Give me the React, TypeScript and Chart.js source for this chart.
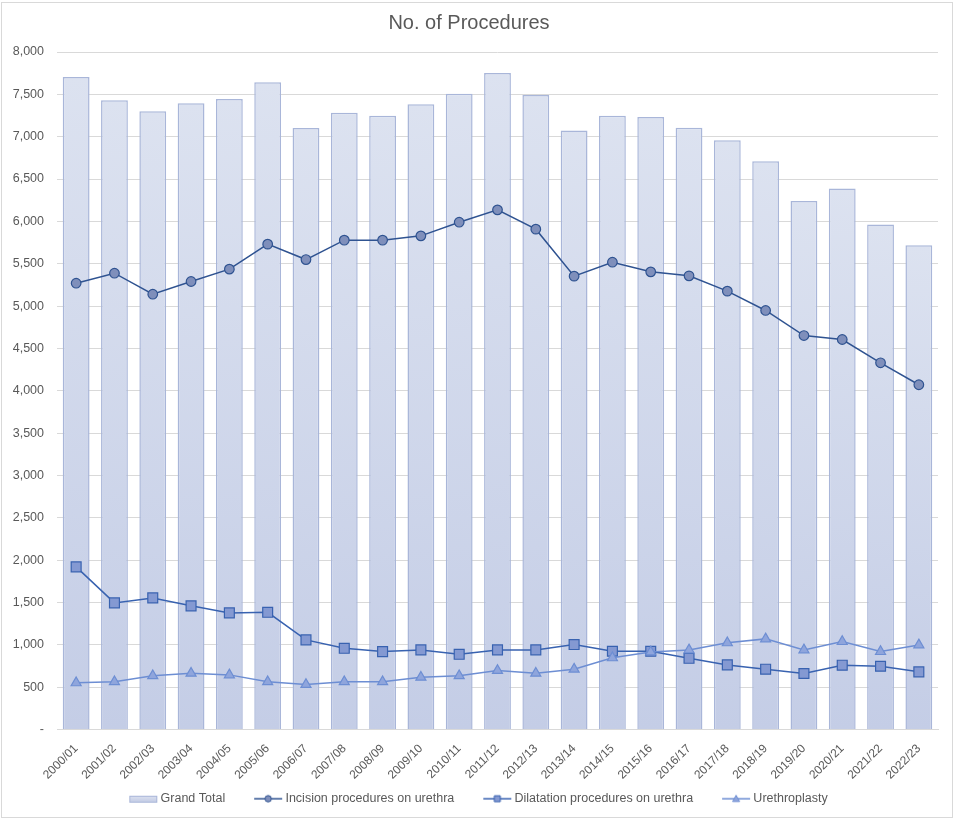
import { useEffect, useRef } from "react";
import { Chart, registerables, type ScriptableContext } from "chart.js";

Chart.register(...registerables);

/* Financial years on the x axis */
const YEARS = [
  "2000/01", "2001/02", "2002/03", "2003/04", "2004/05", "2005/06", "2006/07", "2007/08",
  "2008/09", "2009/10", "2010/11", "2011/12", "2012/13", "2013/14", "2014/15", "2015/16",
  "2016/17", "2017/18", "2018/19", "2019/20", "2020/21", "2021/22", "2022/23",
];

const GRAND_TOTAL = [
  7705, 7430, 7300, 7395, 7446, 7643, 7103, 7283, 7248, 7383, 7508, 7752,
  7493, 7072, 7248, 7233, 7107, 6958, 6710, 6242, 6387, 5962, 5719,
];

const INCISION = [
  5270, 5388, 5140, 5290, 5436, 5731, 5549, 5778, 5778, 5829, 5990, 6136,
  5908, 5353, 5518, 5404, 5357, 5176, 4948, 4652, 4605, 4330, 4071,
];

const DILATATION = [
  1920, 1495, 1554, 1460, 1377, 1384, 1058, 959, 920, 940, 888, 940,
  940, 1003, 924, 924, 841, 763, 712, 661, 759, 747, 681,
];

const URETHROPLASTY = [
  551, 563, 634, 664, 645, 563, 531, 563, 563, 617, 634, 696,
  664, 712, 846, 916, 940, 1023, 1070, 940, 1038, 920, 999,
];

const TEXT = "#595959";
const GRID = "#d9d9d9";
const BAR_TOP = "#dce2f0";
const BAR_BOTTOM = "#c4cde6";
const BAR_BORDER = "#a9b6d9";

/* Legend swatch: a small canvas used as the legend's point style */
function makeSwatch(kind: "bar" | "circle" | "rect" | "triangle", line: string, fill: string) {
  const c = document.createElement("canvas");
  c.width = 52;
  c.height = 12;
  const g = c.getContext("2d")!;
  const x0 = 23, x1 = 51, cy = 6, cx = 37;
  if (kind === "bar") {
    const grad = g.createLinearGradient(0, cy - 3, 0, cy + 3);
    grad.addColorStop(0, BAR_TOP);
    grad.addColorStop(1, BAR_BOTTOM);
    g.fillStyle = grad;
    g.fillRect(x0 + 0.5, cy - 2.5, 27, 6);
    g.strokeStyle = BAR_BORDER;
    g.lineWidth = 1;
    g.strokeRect(x0 + 0.5, cy - 2.5, 27, 6);
    return c;
  }
  g.strokeStyle = line;
  g.lineWidth = 1.5;
  g.beginPath();
  g.moveTo(x0, cy);
  g.lineTo(x1, cy);
  g.stroke();
  g.fillStyle = fill;
  g.lineWidth = 1;
  g.beginPath();
  if (kind === "circle") g.arc(cx, cy, 3.2, 0, Math.PI * 2);
  else if (kind === "rect") g.rect(cx - 3, cy - 3, 6, 6);
  else {
    g.moveTo(cx, cy - 3.5);
    g.lineTo(cx + 3.5, cy + 2.8);
    g.lineTo(cx - 3.5, cy + 2.8);
    g.closePath();
  }
  g.fill();
  g.stroke();
  return c;
}

export default function App() {
  const canvasRef = useRef<HTMLCanvasElement>(null);
  const chartRef = useRef<Chart | null>(null);

  useEffect(() => {
    if (!canvasRef.current) return;
    chartRef.current?.destroy();

    const swatches = [
      makeSwatch("bar", BAR_BORDER, BAR_TOP),
      makeSwatch("circle", "#2f5391", "#7f8fbb"),
      makeSwatch("rect", "#3862b0", "#8499d2"),
      makeSwatch("triangle", "#6d8ed3", "#8fa5dc"),
    ];

    const barFill = (c: ScriptableContext<"bar">) => {
      const chart = c.chart;
      const area = chart.chartArea;
      if (!area || c.dataIndex == null) return BAR_TOP;
      const top = chart.scales.y.getPixelForValue(GRAND_TOTAL[c.dataIndex]);
      const grad = chart.ctx.createLinearGradient(0, top, 0, area.bottom);
      grad.addColorStop(0, BAR_TOP);
      grad.addColorStop(1, BAR_BOTTOM);
      return grad;
    };

    chartRef.current = new Chart(canvasRef.current, {
      type: "bar",
      data: {
        labels: YEARS,
        datasets: [
          {
            type: "bar",
            label: "Grand Total",
            data: GRAND_TOTAL,
            backgroundColor: barFill as never,
            borderColor: BAR_BORDER,
            borderWidth: 1.5,
            categoryPercentage: 1,
            barPercentage: 0.7,
            order: 10,
          },
          {
            type: "line",
            label: "Incision procedures on urethra",
            data: INCISION,
            borderColor: "#2f5391",
            borderWidth: 1.5,
            pointStyle: "circle",
            pointRadius: 4.8,
            pointBackgroundColor: "#7f8fbb",
            pointBorderColor: "#2f5391",
            pointBorderWidth: 1.2,
            tension: 0,
            order: 3,
          } as never,
          {
            type: "line",
            label: "Dilatation procedures on urethra",
            data: DILATATION,
            borderColor: "#3862b0",
            borderWidth: 1.5,
            pointStyle: "rect",
            pointRadius: 7,
            pointBackgroundColor: "#8499d2",
            pointBorderColor: "#3862b0",
            pointBorderWidth: 1.2,
            tension: 0,
            order: 2,
          } as never,
          {
            type: "line",
            label: "Urethroplasty",
            data: URETHROPLASTY,
            borderColor: "#6d8ed3",
            borderWidth: 1.5,
            pointStyle: "triangle",
            pointRadius: 5.8,
            pointBackgroundColor: "#8fa5dc",
            pointBorderColor: "#6d8ed3",
            pointBorderWidth: 1.2,
            tension: 0,
            order: 1,
          } as never,
        ],
      },
      options: {
        responsive: true,
        maintainAspectRatio: false,
        animation: false,
        layout: { padding: { left: 0, right: 16, top: 0, bottom: 5 } },
        plugins: {
          title: {
            display: true,
            text: "No. of Procedures",
            color: TEXT,
            font: { size: 20, weight: "normal" },
            padding: { top: 11, bottom: 17 },
          },
          legend: {
            position: "bottom",
            labels: {
              usePointStyle: true,
              pointStyleWidth: 44,
              padding: 10,
              color: TEXT,
              font: { size: 12.5 },
              generateLabels: (chart) =>
                chart.data.datasets.map((ds, i) => ({
                  text: ds.label as string,
                  pointStyle: swatches[i],
                  fillStyle: "transparent",
                  strokeStyle: "transparent",
                  lineWidth: 0,
                  hidden: false,
                  datasetIndex: i,
                  fontColor: TEXT,
                })),
            },
          },
          tooltip: { enabled: false },
        },
        scales: {
          x: {
            grid: { display: false },
            border: { display: true, color: GRID, width: 1 },
            ticks: {
              color: TEXT,
              font: { size: 12 },
              maxRotation: 45,
              minRotation: 45,
              padding: 4,
            },
            afterFit: (s) => {
              s.height = 53;
            },
          },
          y: {
            min: 0,
            max: 8000,
            grid: { color: GRID, drawTicks: false },
            border: { display: false },
            ticks: {
              stepSize: 500,
              color: TEXT,
              font: { size: 12.5 },
              padding: 13,
              callback: (v) => (Number(v) === 0 ? "-" : Number(v).toLocaleString("en-US")),
            },
            afterFit: (s) => {
              s.width = 57;
            },
          },
        },
      },
    });

    return () => {
      chartRef.current?.destroy();
      chartRef.current = null;
    };
  }, []);

  return (
    <div style={{ position: "absolute", left: 0, top: 0, width: 954, height: 820, background: "#fff" }}>
      <div
        style={{
          position: "absolute",
          left: 1,
          top: 2,
          width: 950,
          height: 814,
          border: `1px solid ${GRID}`,
        }}
      />
      <div style={{ position: "absolute", left: 0, top: 0, width: 954, height: 820 }}>
        <canvas ref={canvasRef} />
      </div>
    </div>
  );
}
